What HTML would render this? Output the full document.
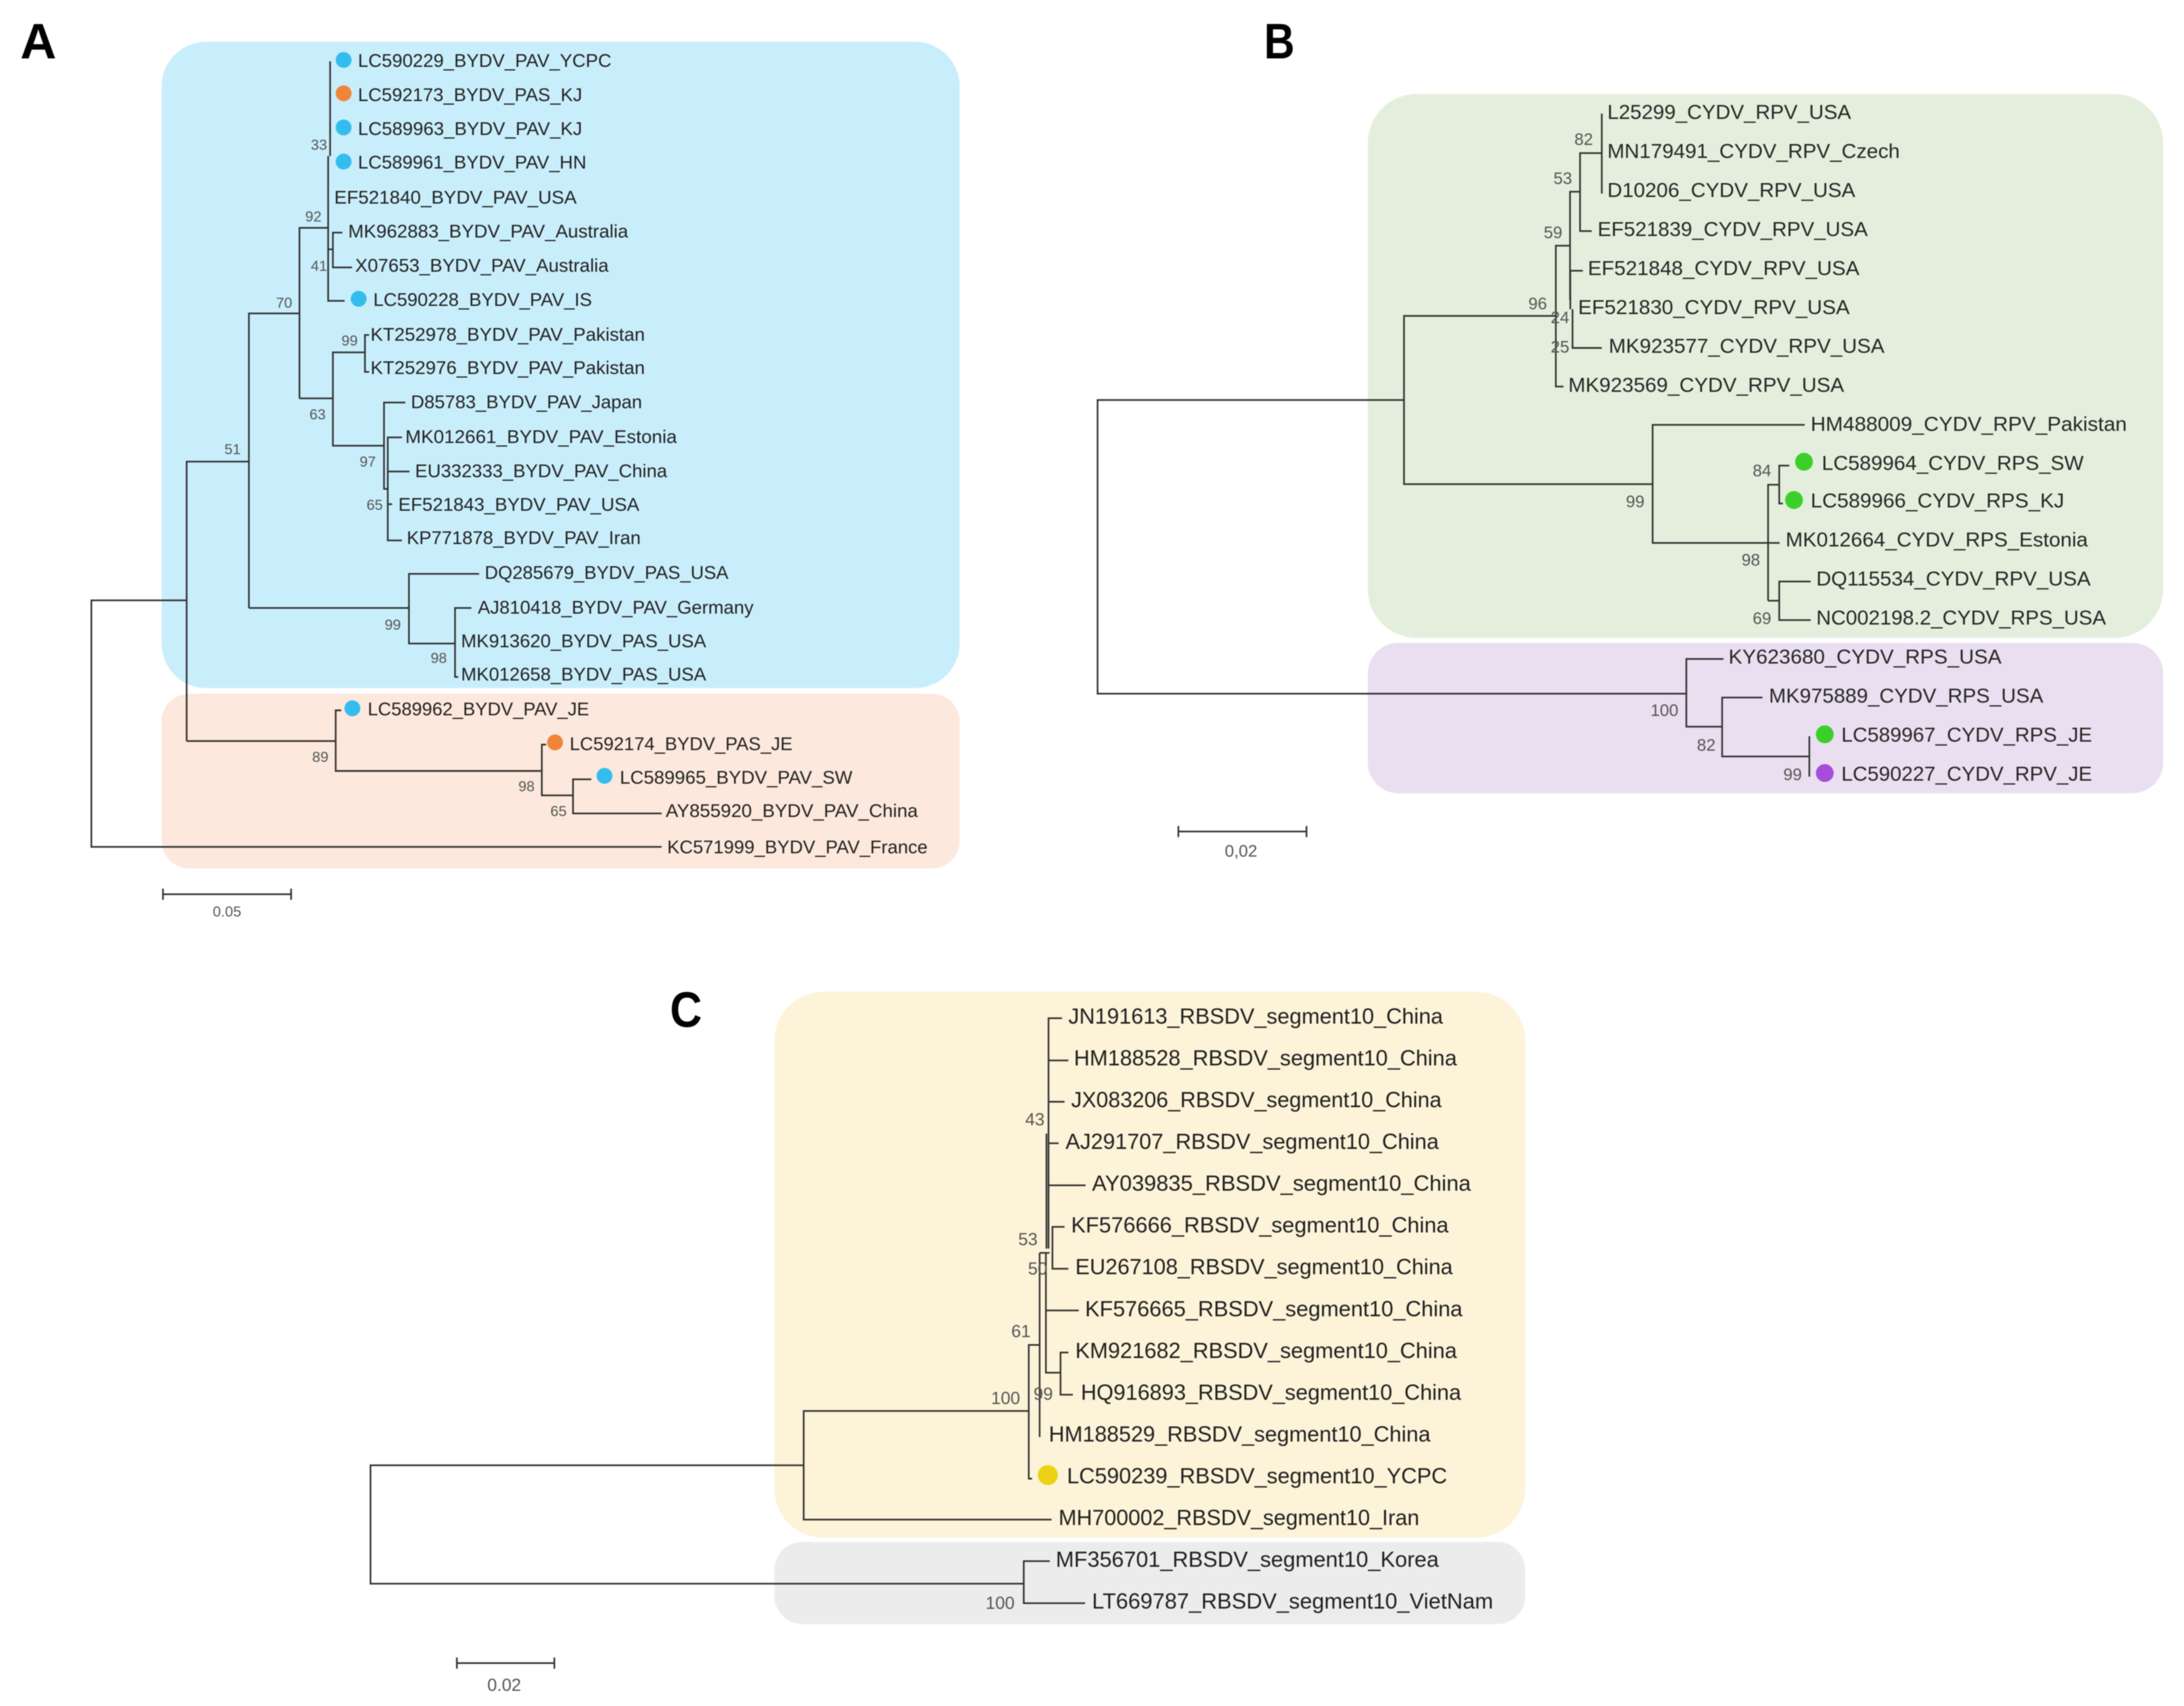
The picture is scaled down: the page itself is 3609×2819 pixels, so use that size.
<!DOCTYPE html>
<html>
<head>
<meta charset="utf-8">
<style>
html,body{margin:0;padding:0;background:#fff;width:3609px;height:2819px;overflow:hidden}
svg{display:block;filter:blur(0.9px)}
text{font-family:"Liberation Sans",Arial,sans-serif}
.a text{font-size:13.2px;fill:#222}
.b text{font-size:14.6px;fill:#262626}
.c text{font-size:15.6px;fill:#202020}
.ns text{fill:#555;text-anchor:middle}
.let{font-size:36px;font-weight:bold;fill:#000}
path{fill:none;stroke:#333;stroke-width:1.2}
</style>
</head>
<body>
<svg xmlns="http://www.w3.org/2000/svg" width="3609" height="2819" viewBox="0 0 1568 1224.8" preserveAspectRatio="none">
<rect width="1568" height="1224.8" fill="#fff"/>

<!-- backgrounds -->
<rect x="116" y="30" width="573" height="464" rx="32" fill="#c9eefb"/>
<rect x="116" y="498" width="573" height="125.5" rx="20" fill="#fce8dc"/>
<rect x="982" y="67.5" width="571" height="390.5" rx="35" fill="#e3efdc"/>
<rect x="982" y="461.5" width="571" height="108" rx="22" fill="#e9dff0"/>
<rect x="556" y="712" width="539" height="392" rx="35" fill="#fdf3d9"/>
<rect x="556" y="1107" width="539" height="59" rx="20" fill="#ececec"/>

<!-- panel letters -->
<text class="let" x="14.5" y="42">A</text>
<text class="let" x="907.5" y="42" textLength="22" lengthAdjust="spacingAndGlyphs">B</text>
<text class="let" x="481" y="737" textLength="23" lengthAdjust="spacingAndGlyphs">C</text>

<!-- tree A -->
<path d="M237 44V112M235.6 112V216H247.4M236 163.6H215V286M215 225H178.7V436.5M178.7 331.4H134V532M134 431H65.6V608H475M134 532H241M245 510H241V553.5H389M392 534.6H389V571H411.4M424.5 559.5H411.4V584H475"/>
<path d="M235.6 179H239M245.8 167H239V192H252.7"/>
<path d="M178.7 436.5H293.6M344 412H293.6V462H326.7M338.5 436.5H326.7V486H329"/>
<path d="M215 286H239M262 253H239V320H275.7M265 240.5H262V267H265M291 289H275.7V351H278.4M288.6 314H278.4V388H288.6M278.4 338.5H294M278.4 362H281.5"/>
<path d="M117 642H209M117 638V646M209 638V646" stroke-width="1.4"/>

<g fill="#33bdee">
<circle cx="246.7" cy="43" r="5.7"/><circle cx="246.7" cy="91.5" r="5.7"/><circle cx="246.7" cy="116" r="5.7"/>
<circle cx="257.5" cy="214.5" r="5.7"/><circle cx="253" cy="508.5" r="5.7"/><circle cx="434" cy="557" r="5.7"/>
</g>
<g fill="#f0853a"><circle cx="246.7" cy="67" r="5.7"/><circle cx="398.5" cy="533" r="5.7"/></g>

<g class="a" transform="translate(0,-0.2)">
<text x="257" y="48.3" textLength="182" lengthAdjust="spacingAndGlyphs">LC590229_BYDV_PAV_YCPC</text>
<text x="257" y="72.8" textLength="161" lengthAdjust="spacingAndGlyphs">LC592173_BYDV_PAS_KJ</text>
<text x="257" y="97" textLength="161" lengthAdjust="spacingAndGlyphs">LC589963_BYDV_PAV_KJ</text>
<text x="257" y="121.3" textLength="164" lengthAdjust="spacingAndGlyphs">LC589961_BYDV_PAV_HN</text>
<text x="240" y="146.3" textLength="174" lengthAdjust="spacingAndGlyphs">EF521840_BYDV_PAV_USA</text>
<text x="250" y="170.8" textLength="201" lengthAdjust="spacingAndGlyphs">MK962883_BYDV_PAV_Australia</text>
<text x="255" y="195.3" textLength="182" lengthAdjust="spacingAndGlyphs">X07653_BYDV_PAV_Australia</text>
<text x="268" y="219.8" textLength="157" lengthAdjust="spacingAndGlyphs">LC590228_BYDV_PAV_IS</text>
<text x="266" y="244.8" textLength="197" lengthAdjust="spacingAndGlyphs">KT252978_BYDV_PAV_Pakistan</text>
<text x="266" y="268.8" textLength="197" lengthAdjust="spacingAndGlyphs">KT252976_BYDV_PAV_Pakistan</text>
<text x="295" y="293.3" textLength="166" lengthAdjust="spacingAndGlyphs">D85783_BYDV_PAV_Japan</text>
<text x="291" y="318.3" textLength="195" lengthAdjust="spacingAndGlyphs">MK012661_BYDV_PAV_Estonia</text>
<text x="298" y="342.8" textLength="181" lengthAdjust="spacingAndGlyphs">EU332333_BYDV_PAV_China</text>
<text x="286" y="366.8" textLength="173" lengthAdjust="spacingAndGlyphs">EF521843_BYDV_PAV_USA</text>
<text x="292" y="390.8" textLength="168" lengthAdjust="spacingAndGlyphs">KP771878_BYDV_PAV_Iran</text>
<text x="348" y="415.8" textLength="175" lengthAdjust="spacingAndGlyphs">DQ285679_BYDV_PAS_USA</text>
<text x="343" y="440.8" textLength="198" lengthAdjust="spacingAndGlyphs">AJ810418_BYDV_PAV_Germany</text>
<text x="331" y="464.8" textLength="176" lengthAdjust="spacingAndGlyphs">MK913620_BYDV_PAS_USA</text>
<text x="331" y="488.8" textLength="176" lengthAdjust="spacingAndGlyphs">MK012658_BYDV_PAS_USA</text>
<text x="264" y="513.8" textLength="159" lengthAdjust="spacingAndGlyphs">LC589962_BYDV_PAV_JE</text>
<text x="409" y="538.8" textLength="160" lengthAdjust="spacingAndGlyphs">LC592174_BYDV_PAS_JE</text>
<text x="445" y="562.8" textLength="167" lengthAdjust="spacingAndGlyphs">LC589965_BYDV_PAV_SW</text>
<text x="478" y="586.8" textLength="181" lengthAdjust="spacingAndGlyphs">AY855920_BYDV_PAV_China</text>
<text x="479" y="612.8" textLength="187" lengthAdjust="spacingAndGlyphs">KC571999_BYDV_PAV_France</text>
</g>
<g class="ns" font-size="10.5">
<text x="229" y="107.5">33</text><text x="225" y="159">92</text><text x="229" y="194.5">41</text>
<text x="204" y="221">70</text><text x="251" y="248">99</text><text x="228" y="301">63</text>
<text x="167" y="326">51</text><text x="264" y="335">97</text><text x="269" y="366">65</text>
<text x="282" y="452">99</text><text x="315" y="476">98</text><text x="230" y="547">89</text>
<text x="378" y="568">98</text><text x="401" y="586">65</text><text x="163" y="658">0.05</text>
</g>

<!-- tree B -->
<path d="M1008 287.2H788V498H1211"/>
<path d="M1117 226.8H1008V347.6H1186.5M1122.5 277.5H1117V176.4H1127.2M1127.2 215.2V137.6H1134.4M1142.8 165.9H1134.4V109.9H1150M1150 81.6V139M1136.4 194.4H1127.4V222M1129 222V249.8H1150"/>
<path d="M1295.7 305H1186.5V389.8H1277.7M1269.4 431.3V348H1277.4M1284.6 334.3H1277.4V361.5H1280M1269.4 431.3H1277.4M1300 417.5H1277.4V445.2H1300"/>
<path d="M1237.4 473.1H1210.7V521.7H1236.4M1265.4 500.8H1236.4V543.1H1299M1299 528.6V557.6"/>
<path d="M846 597H938M846 593V601M938 593V601" stroke-width="1.4"/>

<g fill="#3ccf2a">
<circle cx="1295.2" cy="331.5" r="6.4"/><circle cx="1288" cy="359" r="6.4"/><circle cx="1310.1" cy="527.2" r="6.4"/>
</g>
<circle cx="1310.1" cy="555" r="6.4" fill="#a64ddb"/>

<g class="b" transform="translate(0,-0.6)">
<text x="1154" y="86" textLength="175" lengthAdjust="spacingAndGlyphs">L25299_CYDV_RPV_USA</text>
<text x="1154" y="114" textLength="210" lengthAdjust="spacingAndGlyphs">MN179491_CYDV_RPV_Czech</text>
<text x="1154" y="142" textLength="178" lengthAdjust="spacingAndGlyphs">D10206_CYDV_RPV_USA</text>
<text x="1147" y="170" textLength="194" lengthAdjust="spacingAndGlyphs">EF521839_CYDV_RPV_USA</text>
<text x="1140" y="198" textLength="195" lengthAdjust="spacingAndGlyphs">EF521848_CYDV_RPV_USA</text>
<text x="1133" y="226" textLength="195" lengthAdjust="spacingAndGlyphs">EF521830_CYDV_RPV_USA</text>
<text x="1155" y="254" textLength="198" lengthAdjust="spacingAndGlyphs">MK923577_CYDV_RPV_USA</text>
<text x="1126" y="282" textLength="198" lengthAdjust="spacingAndGlyphs">MK923569_CYDV_RPV_USA</text>
<text x="1300" y="310" textLength="227" lengthAdjust="spacingAndGlyphs">HM488009_CYDV_RPV_Pakistan</text>
<text x="1308" y="338" textLength="188" lengthAdjust="spacingAndGlyphs">LC589964_CYDV_RPS_SW</text>
<text x="1300" y="365" textLength="182" lengthAdjust="spacingAndGlyphs">LC589966_CYDV_RPS_KJ</text>
<text x="1282" y="393" textLength="217" lengthAdjust="spacingAndGlyphs">MK012664_CYDV_RPS_Estonia</text>
<text x="1304" y="421" textLength="197" lengthAdjust="spacingAndGlyphs">DQ115534_CYDV_RPV_USA</text>
<text x="1304" y="449" textLength="208" lengthAdjust="spacingAndGlyphs">NC002198.2_CYDV_RPS_USA</text>
<text x="1241" y="477" textLength="196" lengthAdjust="spacingAndGlyphs">KY623680_CYDV_RPS_USA</text>
<text x="1270" y="505" textLength="197" lengthAdjust="spacingAndGlyphs">MK975889_CYDV_RPS_USA</text>
<text x="1322" y="533" textLength="180" lengthAdjust="spacingAndGlyphs">LC589967_CYDV_RPS_JE</text>
<text x="1322" y="561" textLength="180" lengthAdjust="spacingAndGlyphs">LC590227_CYDV_RPV_JE</text>
</g>
<g class="ns" font-size="12">
<text x="1137" y="104">82</text><text x="1122" y="132">53</text><text x="1115" y="171">59</text>
<text x="1104" y="222">96</text><text x="1120" y="232">24</text><text x="1120" y="253">25</text>
<text x="1265" y="342">84</text><text x="1174" y="364">99</text><text x="1257" y="406">98</text>
<text x="1265" y="448">69</text><text x="1195" y="514">100</text><text x="1225" y="539">82</text>
<text x="1287" y="560">99</text><text x="891" y="615">0,02</text>
</g>

<!-- tree C -->
<path d="M577 1052H266V1137H735M735 1120.8V1151M753.7 1120.8H735V1151H779M738.6 1013H577V1091H755"/>
<path d="M762.5 731H752.8V896.4M752.8 761.3H767M752.8 791H764.3M752.8 820.8H760M752.8 851H779.4"/>
<path d="M751.3 813.9V896.4" stroke-width="1.8"/>
<path d="M764.3 880.8H755.6V910.9H767M746.4 899.5H753.5M750.9 899.5V985.5H761.4M750.9 940.8H774.5M767 971H761.4V1001.3H770.3M746.4 899.5V1031.7M746.4 965.6H738.6V1061.6H741"/>
<path d="M328 1194H398M328 1190V1198M398 1190V1198" stroke-width="1.4"/>

<circle cx="752.3" cy="1059" r="7.2" fill="#ecd214"/>

<g class="c" transform="translate(0,-0.6)">
<text x="767" y="735.5" textLength="269" lengthAdjust="spacingAndGlyphs">JN191613_RBSDV_segment10_China</text>
<text x="771" y="765.5" textLength="275" lengthAdjust="spacingAndGlyphs">HM188528_RBSDV_segment10_China</text>
<text x="769" y="795.5" textLength="266" lengthAdjust="spacingAndGlyphs">JX083206_RBSDV_segment10_China</text>
<text x="765" y="825.5" textLength="268" lengthAdjust="spacingAndGlyphs">AJ291707_RBSDV_segment10_China</text>
<text x="784" y="855.5" textLength="272" lengthAdjust="spacingAndGlyphs">AY039835_RBSDV_segment10_China</text>
<text x="769" y="885.5" textLength="271" lengthAdjust="spacingAndGlyphs">KF576666_RBSDV_segment10_China</text>
<text x="772" y="915.5" textLength="271" lengthAdjust="spacingAndGlyphs">EU267108_RBSDV_segment10_China</text>
<text x="779" y="945.5" textLength="271" lengthAdjust="spacingAndGlyphs">KF576665_RBSDV_segment10_China</text>
<text x="772" y="975.5" textLength="274" lengthAdjust="spacingAndGlyphs">KM921682_RBSDV_segment10_China</text>
<text x="776" y="1005.5" textLength="273" lengthAdjust="spacingAndGlyphs">HQ916893_RBSDV_segment10_China</text>
<text x="753" y="1035.5" textLength="274" lengthAdjust="spacingAndGlyphs">HM188529_RBSDV_segment10_China</text>
<text x="766" y="1065.5" textLength="273" lengthAdjust="spacingAndGlyphs">LC590239_RBSDV_segment10_YCPC</text>
<text x="760" y="1095.5" textLength="259" lengthAdjust="spacingAndGlyphs">MH700002_RBSDV_segment10_Iran</text>
<text x="758" y="1125.5" textLength="275" lengthAdjust="spacingAndGlyphs">MF356701_RBSDV_segment10_Korea</text>
<text x="784" y="1155.5" textLength="288" lengthAdjust="spacingAndGlyphs">LT669787_RBSDV_segment10_VietNam</text>
</g>
<g class="ns" font-size="12.5">
<text x="743" y="808">43</text><text x="738" y="894">53</text><text x="745" y="915">50</text>
<text x="733" y="960">61</text><text x="722" y="1008">100</text><text x="749" y="1005">99</text>
<text x="718" y="1155">100</text><text x="362" y="1214">0.02</text>
</g>
</svg>
</body>
</html>
